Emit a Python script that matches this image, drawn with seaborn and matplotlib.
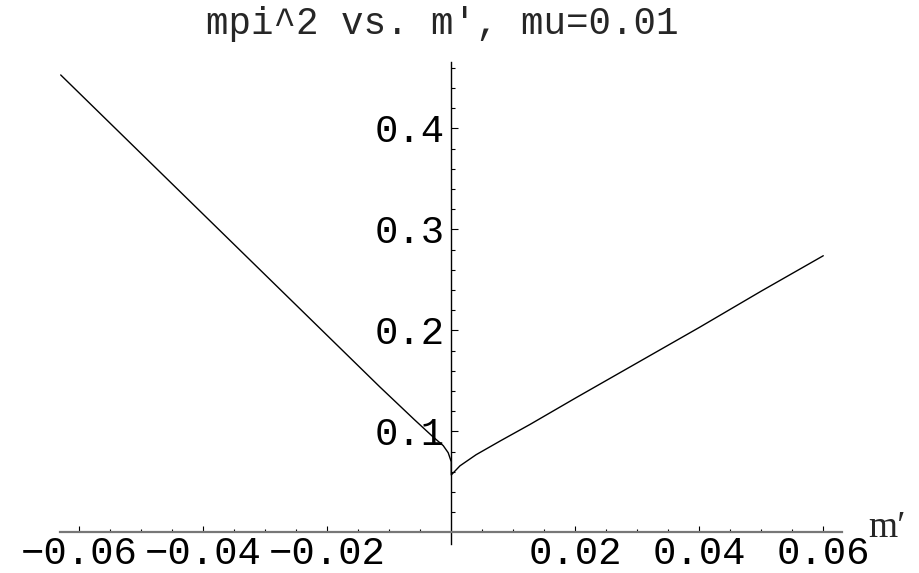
import numpy as np
import pandas as pd
import matplotlib
matplotlib.use("Agg")
import matplotlib.pyplot as plt
from matplotlib.ticker import FixedLocator
import seaborn as sns

# pion mass squared as a function of m', mu = 0.01
left_m = [-0.063, -0.05, -0.04, -0.03, -0.02, -0.0115, -0.006, -0.003, -0.0013, -0.0005, 0.0]
left_mpi2 = [0.453, 0.375, 0.315, 0.255, 0.195, 0.144, 0.112, 0.095, 0.086, 0.079, 0.070]
right_m = [0.0, 0.0014, 0.004, 0.008, 0.0127, 0.02, 0.03, 0.04, 0.05, 0.06]
right_mpi2 = [0.057, 0.066, 0.077, 0.091, 0.107, 0.133, 0.168, 0.203, 0.239, 0.274]

x_major = [-0.06, -0.04, -0.02, 0.02, 0.04, 0.06]
x_labels = ["\u22120.06", "\u22120.04", "\u22120.02", "0.02", "0.04", "0.06"]
y_major = [0.1, 0.2, 0.3, 0.4]
y_labels = ["0.1", "0.2", "0.3", "0.4"]

title = "mpi^2 vs. m\u2032, mu=0.01"
xlabel = "m\u2032"

df = pd.DataFrame({
    "m": left_m + right_m,
    "mpi2": left_mpi2 + right_mpi2,
})

sns.set_style("white")
plt.rcParams["font.family"] = ["Liberation Mono", "DejaVu Sans Mono"]

fig = plt.figure(figsize=(9.19, 5.73), dpi=100)
ax = fig.add_axes([0, 0, 1, 1])
ax.patch.set_alpha(0)

sns.lineplot(data=df, x="m", y="mpi2", sort=False, estimator=None,
             color="black", linewidth=1.0, ax=ax)

ax.set_xlim(-0.07279, 0.07544)
ax.set_ylim(-0.0401, 0.5272)

# axes crossing at the origin
for side in ("top", "right"):
    ax.spines[side].set_visible(False)
ax.spines["left"].set_position(("data", 0))
ax.spines["bottom"].set_position(("data", 0))
ax.spines["left"].set_bounds(-0.0114, 0.466)
ax.spines["bottom"].set_bounds(-0.0631, 0.063)
ax.spines["left"].set_color("black")
ax.spines["left"].set_linewidth(1.0)
ax.spines["bottom"].set_color("#777777")
ax.spines["bottom"].set_linewidth(1.6)

ax.xaxis.set_major_locator(FixedLocator(x_major))
ax.set_xticklabels(x_labels)
ax.xaxis.set_minor_locator(FixedLocator(
    [v for v in np.arange(-0.06, 0.0601, 0.005) if abs(v) > 1e-9 and
     min(abs(v - t) for t in x_major) > 1e-9]))
ax.yaxis.set_major_locator(FixedLocator(y_major))
ax.set_yticklabels(y_labels)
ax.yaxis.set_minor_locator(FixedLocator(
    [v for v in np.arange(0.02, 0.4601, 0.02) if
     min(abs(v - t) for t in y_major) > 1e-9]))

ax.tick_params(axis="both", which="both", direction="in", colors="black",
               labelsize=28, width=0.8, bottom=True, left=True)
ax.tick_params(axis="x", which="major", length=4.5, pad=2.5)
ax.tick_params(axis="x", which="minor", length=2.5)
ax.tick_params(axis="y", which="major", length=5, pad=5)
ax.tick_params(axis="y", which="minor", length=3)

ax.set_xlabel("")
ax.set_ylabel("")

fig.text(442 / 919, 1 - 24 / 573, title, ha="center", va="center",
         fontsize=27, family=["Liberation Mono", "DejaVu Sans Mono"])
ax.text(868 / 919, 1 - 537 / 573, xlabel, transform=ax.transAxes,
        ha="left", va="baseline", fontsize=27,
        family=["Liberation Serif", "DejaVu Serif"])

fig.savefig("out.png", dpi=100)
